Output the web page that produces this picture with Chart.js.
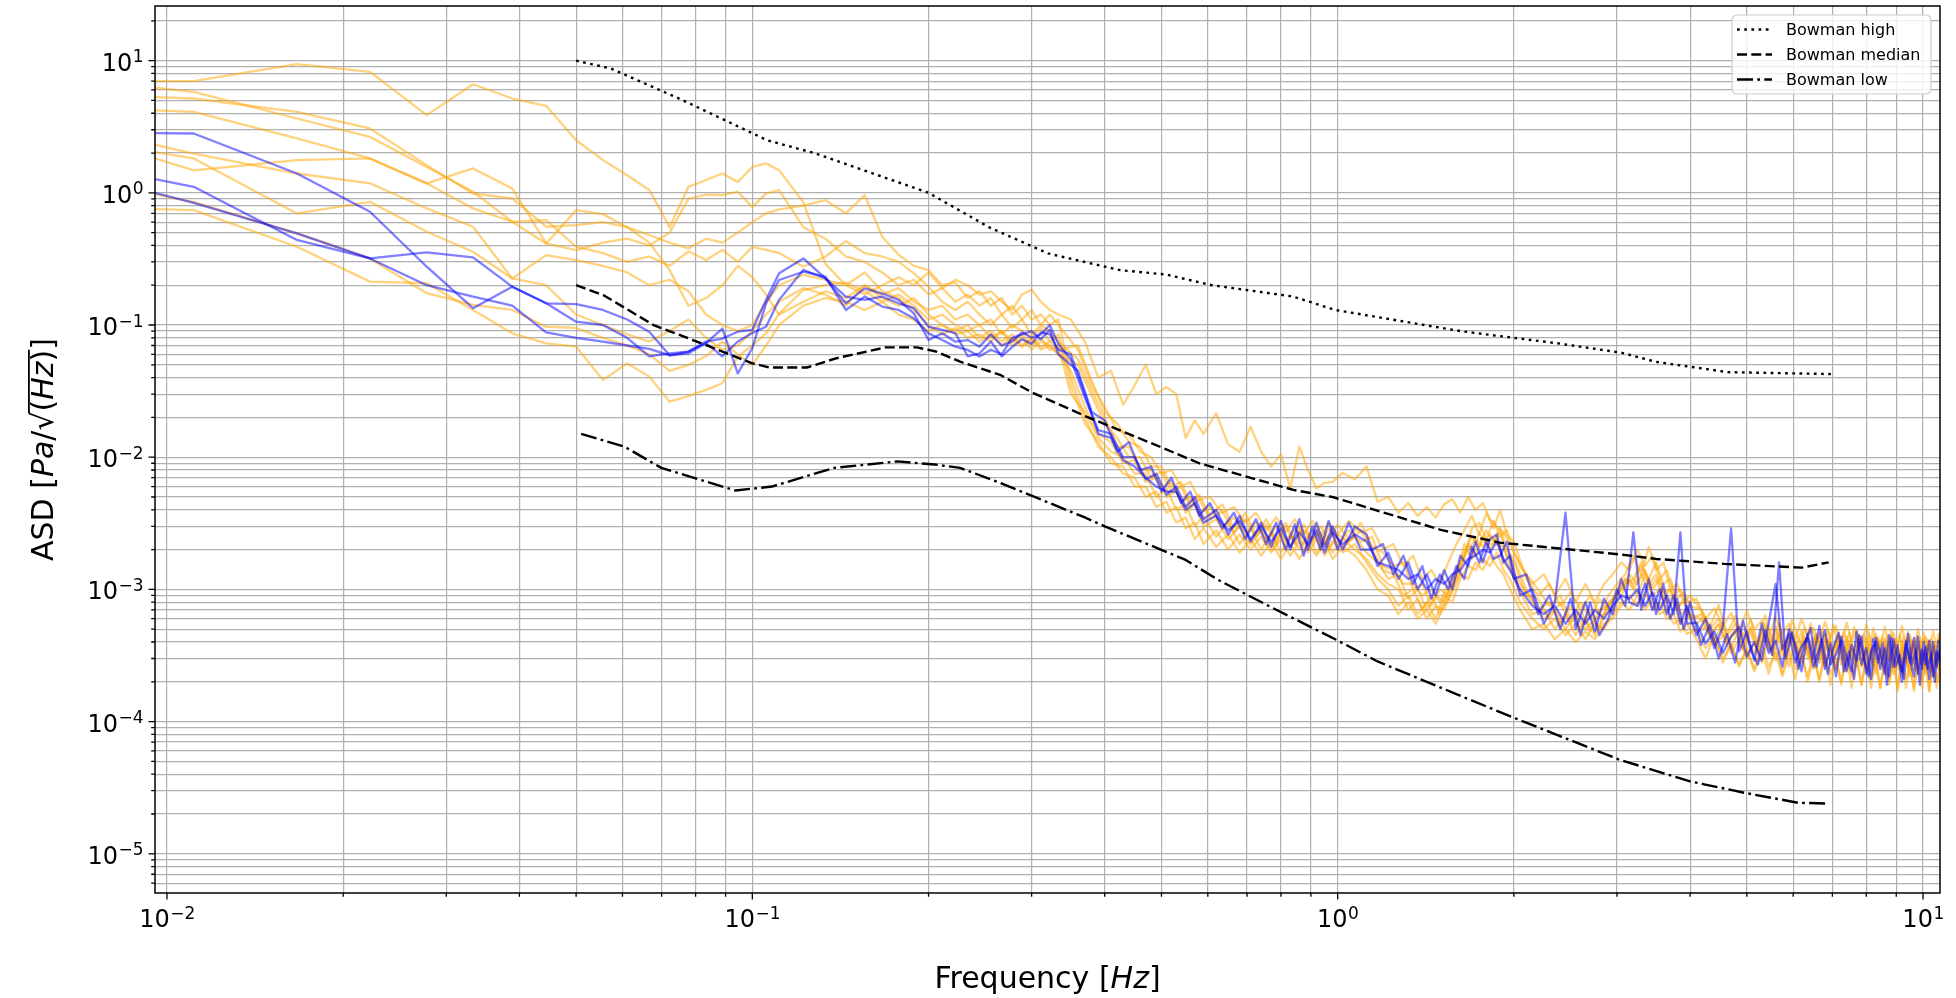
<!DOCTYPE html>
<html lang="en">
<head>
<meta charset="utf-8">
<title>ASD</title>
<script src="https://cdn.jsdelivr.net/npm/chart.js@4.4.1/dist/chart.umd.min.js"></script>
<style>
  html, body { margin: 0; padding: 0; background: #ffffff; }
  #wrap { position: relative; width: 1956px; height: 998px; }
</style>
</head>
<body>
<div id="wrap"><canvas id="asd" width="1956" height="998"></canvas></div>
<script>
// Frequencies in Hz: FFT bins (k/180 Hz) at the low end, then two interleaved read-off grids
const freqLow = [
  0.00556, 0.01111, 0.01667, 0.02222, 0.02778, 0.03333, 0.03889, 0.04444, 0.05, 0.05556,
  0.06111, 0.06667, 0.07222, 0.07778, 0.08333, 0.08889, 0.09444, 0.1, 0.10556, 0.11111,
  0.12222, 0.13333, 0.14444, 0.15556, 0.16667, 0.17778, 0.18889, 0.2, 0.21111, 0.22222,
  0.23333, 0.24444, 0.25556, 0.26667, 0.27778, 0.28889, 0.3, 0.31111, 0.32222, 0.33333
]
const freqHighA = [
  0.35, 0.37, 0.39, 0.41, 0.43, 0.45, 0.47, 0.49, 0.51, 0.53, 0.55, 0.57, 0.59, 0.62, 0.65, 0.68, 0.71, 0.74, 0.77, 0.8, 0.83, 0.86, 0.89, 0.92, 0.95, 0.98,
  1.02, 1.07, 1.12, 1.17, 1.22, 1.27, 1.32, 1.37, 1.42, 1.47, 1.52, 1.57, 1.62, 1.67, 1.72, 1.77, 1.82, 1.87, 1.92, 1.97,
  2.05, 2.15, 2.25, 2.35, 2.45, 2.55, 2.65, 2.75, 2.85, 2.95, 3.05, 3.15, 3.25, 3.35, 3.45, 3.55, 3.65, 3.75, 3.85, 3.95,
  4.1, 4.25, 4.4, 4.55, 4.7, 4.85, 5.0, 5.15, 5.3, 5.45, 5.6, 5.75, 5.9, 6.05, 6.2, 6.35, 6.5, 6.65, 6.8, 6.95, 7.1, 7.25, 7.4,
  7.55, 7.7, 7.85, 8.0, 8.15, 8.3, 8.45, 8.6, 8.75, 8.9, 9.05, 9.2, 9.35, 9.5, 9.65, 9.8, 9.95, 10.1, 10.25, 10.4, 10.55, 10.7
]
const freqHighB = [
  0.36, 0.38, 0.4, 0.42, 0.44, 0.46, 0.48, 0.5, 0.52, 0.54, 0.56, 0.58, 0.605, 0.635, 0.665, 0.695, 0.725, 0.755, 0.785, 0.815, 0.845, 0.875, 0.905, 0.935, 0.965, 1.0,
  1.045, 1.095, 1.145, 1.195, 1.245, 1.295, 1.345, 1.395, 1.445, 1.495, 1.545, 1.595, 1.645, 1.695, 1.745, 1.795, 1.845, 1.895, 1.945, 2.0,
  2.1, 2.2, 2.3, 2.4, 2.5, 2.6, 2.7, 2.8, 2.9, 3.0, 3.1, 3.2, 3.3, 3.4, 3.5, 3.6, 3.7, 3.8, 3.9, 4.0,
  4.175, 4.325, 4.475, 4.625, 4.775, 4.925, 5.075, 5.225, 5.375, 5.525, 5.675, 5.825, 5.975, 6.125, 6.275, 6.425, 6.575, 6.725, 6.875, 7.025, 7.175, 7.325, 7.475,
  7.625, 7.775, 7.925, 8.075, 8.225, 8.375, 8.525, 8.675, 8.825, 8.975, 9.125, 9.275, 9.425, 9.575, 9.725, 9.875, 10.025, 10.175, 10.325, 10.475, 10.625, 10.775
]

// ASD values [Pa/sqrt(Hz)], one per frequency in freqLow followed by the series' high grid
const blue1 = [
  2.9, 2.81, 1.40, 0.719, 0.276, 0.134, 0.195, 0.146, 0.144, 0.13, 0.11, 0.089, 0.059, 0.063, 0.075, 0.079, 0.089, 0.092, 0.155, 0.246,
  0.319, 0.225, 0.146, 0.189, 0.173, 0.155, 0.122, 0.077, 0.0865, 0.0748, 0.077, 0.0686, 0.085, 0.07, 0.075, 0.088, 0.08, 0.085, 0.1, 0.072,
  5.5e-2, 2.8e-2, 1.6e-2, 1.5e-2, 1.0e-2, 1.0e-2, 6.8e-3, 7.5e-3, 5.2e-3, 6.0e-3, 4.2e-3, 5.0e-3, 3.4e-3, 4.0e-3, 2.6e-3, 3.6e-3, 2.3e-3, 3.2e-3, 2.1e-3, 3.3e-3, 2.0e-3, 3.4e-3, 2.0e-3, 3.2e-3, 2.1e-3, 3.0e-3,
  2.0e-3, 3.0e-3, 2.6e-3, 1.5e-3, 1.9e-3, 1.2e-3, 1.6e-3, 1.0e-3, 1.3e-3, 9.0e-4, 1.4e-3, 1.0e-3, 1.8e-3, 1.5e-3, 2.3e-3, 1.6e-3, 2.4e-3, 2.6e-3, 1.6e-3, 1.8e-3,
  9.0e-4, 1.0e-3, 5.5e-4, 8.0e-4, 3.8e-3, 5.0e-4, 8.0e-4, 4.8e-4, 8.5e-4, 6.5e-4, 1.2e-3, 8.0e-4, 7.5e-4, 1.1e-3, 7.0e-4, 1.0e-3, 6.5e-4, 9.0e-4, 5.5e-4, 7.5e-4,
  4.5e-4, 6.0e-4, 3.6e-4, 5.2e-4, 2.9e-3, 3.4e-4, 4.8e-4, 2.9e-4, 5.5e-4, 3.3e-4, 4.1e-4, 2.6e-4, 5.0e-4, 3.8e-4, 2.4e-4, 4.6e-4, 3.0e-4, 5.3e-4, 2.5e-4, 3.9e-4, 2.2e-4, 4.4e-4, 3.1e-4,
  2.4e-4, 4.8e-4, 2.7e-4, 3.6e-4, 2.1e-4, 4.3e-4, 3.3e-4, 2.3e-4, 4.5e-4, 2.6e-4, 3.8e-4, 2.0e-4, 4.1e-4, 2.9e-4, 2.2e-4, 4.4e-4, 2.5e-4, 3.7e-4, 2.1e-4, 4.0e-4, 2.6e-4, 3.5e-4
]
const blue2 = [
  2.05, 1.11, 0.44, 0.319, 0.354, 0.325, 0.195, 0.146, 0.106, 0.1, 0.08, 0.058, 0.061, 0.063, 0.073, 0.094, 0.043, 0.067, 0.146, 0.219,
  0.253, 0.232, 0.13, 0.164, 0.138, 0.13, 0.112, 0.0865, 0.077, 0.0686, 0.0648, 0.0577, 0.065, 0.06, 0.08, 0.085, 0.09, 0.078, 0.092, 0.06,
  4.5e-2, 2.2e-2, 1.9e-2, 1.1e-2, 1.3e-2, 8.0e-3, 8.5e-3, 5.5e-3, 7.0e-3, 4.5e-3, 5.5e-3, 3.6e-3, 4.5e-3, 2.9e-3, 3.8e-3, 2.4e-3, 3.4e-3, 2.2e-3, 3.2e-3, 2.0e-3, 3.1e-3, 1.8e-3, 3.0e-3, 2.0e-3, 3.3e-3, 2.0e-3,
  3.2e-3, 2.0e-3, 2.0e-3, 2.2e-3, 1.3e-3, 1.8e-3, 1.1e-3, 1.5e-3, 8.5e-4, 1.3e-3, 1.0e-3, 1.5e-3, 1.2e-3, 2.1e-3, 1.6e-3, 2.3e-3, 1.7e-3, 1.8e-3, 2.3e-3, 1.2e-3,
  1.3e-3, 6.5e-4, 9.0e-4, 5.0e-4, 8.5e-4, 4.5e-4, 8.0e-4, 4.5e-4, 6.0e-4, 1.0e-3, 7.5e-4, 2.7e-3, 7.0e-4, 1.2e-3, 6.5e-4, 1.1e-3, 6.0e-4, 8.5e-4, 5.0e-4, 8.0e-4,
  3.8e-4, 5.4e-4, 3.0e-4, 4.6e-4, 2.8e-4, 5.8e-4, 3.5e-4, 2.7e-4, 4.9e-4, 3.2e-4, 1.6e-3, 3.0e-4, 4.7e-4, 2.5e-4, 3.9e-4, 5.1e-4, 2.6e-4, 4.2e-4, 2.3e-4, 3.6e-4, 4.7e-4, 2.4e-4, 3.4e-4,
  2.1e-4, 4.5e-4, 3.0e-4, 2.2e-4, 4.2e-4, 2.8e-4, 3.9e-4, 1.9e-4, 4.3e-4, 2.6e-4, 3.2e-4, 2.1e-4, 4.6e-4, 2.7e-4, 3.5e-4, 1.9e-4, 4.0e-4, 2.5e-4, 3.3e-4, 2.0e-4, 4.1e-4, 2.4e-4
]
const blue3 = [
  1.85, 0.84, 0.493, 0.319, 0.2, 0.164, 0.14, 0.088, 0.08, 0.075, 0.07, 0.066, 0.059, 0.061, 0.073, 0.058, 0.075, 0.087, 0.097, 0.155,
  0.261, 0.225, 0.164, 0.155, 0.164, 0.146, 0.134, 0.097, 0.092, 0.087, 0.058, 0.061, 0.075, 0.058, 0.068, 0.078, 0.072, 0.088, 0.085, 0.065,
  6.0e-2, 3.0e-2, 1.5e-2, 1.4e-2, 9.5e-3, 8.5e-3, 7.0e-3, 6.0e-3, 5.5e-3, 5.5e-3, 4.0e-3, 4.5e-3, 3.2e-3, 3.6e-3, 2.8e-3, 3.3e-3, 2.4e-3, 3.0e-3, 2.3e-3, 2.9e-3, 2.1e-3, 2.7e-3, 2.2e-3, 2.8e-3, 1.9e-3, 2.7e-3,
  2.2e-3, 2.6e-3, 2.3e-3, 1.6e-3, 1.5e-3, 1.4e-3, 1.2e-3, 1.3e-3, 1.0e-3, 1.2e-3, 1.1e-3, 1.3e-3, 1.4e-3, 1.7e-3, 1.8e-3, 2.0e-3, 1.9e-3, 2.3e-3, 1.7e-3, 1.4e-3,
  1.0e-3, 7.5e-4, 6.5e-4, 7.5e-4, 5.5e-4, 7.0e-4, 5.5e-4, 7.0e-4, 6.0e-4, 7.5e-4, 9.0e-4, 8.5e-4, 1.0e-3, 7.5e-4, 9.5e-4, 7.0e-4, 9.0e-4, 6.5e-4, 2.7e-3, 5.5e-4,
  5.6e-4, 3.9e-4, 4.8e-4, 3.3e-4, 4.4e-4, 5.2e-4, 3.1e-4, 4.0e-4, 2.9e-4, 5.6e-4, 1.1e-3, 3.5e-4, 4.6e-4, 2.8e-4, 3.7e-4, 4.3e-4, 2.6e-4, 3.6e-4, 4.9e-4, 2.7e-4, 3.2e-4, 4.1e-4, 2.4e-4,
  3.8e-4, 2.9e-4, 4.4e-4, 2.3e-4, 3.4e-4, 4.0e-4, 2.5e-4, 3.6e-4, 2.2e-4, 4.2e-4, 3.0e-4, 2.4e-4, 3.9e-4, 2.8e-4, 4.3e-4, 2.3e-4, 3.5e-4, 2.7e-4, 4.1e-4, 2.2e-4, 3.4e-4, 2.9e-4
]
const orange1 = [
  7.0, 6.99, 9.4, 8.22, 3.87, 6.63, 5.17, 4.55, 2.5, 1.77, 1.36, 1.05, 0.55, 1.11, 1.25, 1.40, 1.21, 1.57, 1.67, 1.48,
  0.85, 0.29, 0.2, 0.17, 0.2, 0.23, 0.2, 0.25, 0.19, 0.22, 0.2, 0.17, 0.18, 0.15, 0.13, 0.17, 0.185, 0.15, 0.13, 0.12,
  0.11, 0.075, 0.04, 0.045, 0.025, 0.035, 0.05, 0.03, 0.034, 0.03, 0.014, 0.019, 0.015, 0.0215, 0.0125, 0.011, 0.017, 0.011, 0.0085, 0.0105, 0.0058, 0.012, 0.008, 0.0058, 0.0064, 0.0065,
  0.0076, 0.0068, 0.0085, 0.0046, 0.005, 0.0038, 0.0045, 0.0036, 0.0042, 0.0035, 0.0044, 0.0048, 0.0038, 0.005, 0.004, 0.0045, 0.0034, 0.003, 0.0027, 0.0022,
  1.5e-3, 1.1e-3, 1.3e-3, 9.0e-4, 1.2e-3, 8.0e-4, 1.1e-3, 8.0e-4, 1.1e-3, 1.3e-3, 1.6e-3, 1.4e-3, 2.0e-3, 1.5e-3, 1.8e-3, 1.2e-3, 1.4e-3, 9.0e-4, 1.0e-3, 8.0e-4,
  8.5e-4, 6.0e-4, 7.2e-4, 5.3e-4, 6.6e-4, 4.8e-4, 6.9e-4, 5.0e-4, 5.8e-4, 4.4e-4, 6.2e-4, 4.6e-4, 5.5e-4, 4.2e-4, 6.0e-4, 4.5e-4, 5.1e-4, 4.0e-4, 5.7e-4, 4.3e-4, 5.3e-4, 3.8e-4, 5.6e-4,
  4.1e-4, 4.9e-4, 3.7e-4, 5.4e-4, 4.0e-4, 4.6e-4, 3.6e-4, 5.2e-4, 3.9e-4, 4.7e-4, 3.5e-4, 5.3e-4, 3.8e-4, 4.5e-4, 3.4e-4, 5.0e-4, 3.7e-4, 4.4e-4, 3.3e-4, 4.9e-4, 3.6e-4, 4.6e-4
]
const orange2 = [
  8.0, 5.81, 3.65, 2.65, 1.57, 1.02, 0.604, 0.414, 0.369, 0.42, 0.45, 0.4, 0.5, 0.9, 0.97, 0.96, 1.02, 0.78, 0.99, 1.05,
  0.55, 0.45, 0.33, 0.3, 0.25, 0.2, 0.22, 0.17, 0.19, 0.15, 0.17, 0.14, 0.16, 0.12, 0.14, 0.11, 0.13, 0.1, 0.12, 0.1,
  6.5e-2, 3.5e-2, 2.4e-2, 1.6e-2, 1.5e-2, 1.1e-2, 1.0e-2, 7.5e-3, 8.0e-3, 6.0e-3, 6.5e-3, 4.8e-3, 5.0e-3, 3.8e-3, 4.2e-3, 3.2e-3, 3.8e-3, 2.8e-3, 3.5e-3, 2.7e-3, 3.4e-3, 2.6e-3, 3.3e-3, 2.5e-3, 3.2e-3, 2.6e-3,
  3.3e-3, 2.7e-3, 2.9e-3, 2.0e-3, 2.2e-3, 1.5e-3, 1.8e-3, 1.2e-3, 1.4e-3, 1.1e-3, 1.6e-3, 2.2e-3, 2.8e-3, 3.6e-3, 2.6e-3, 3.8e-3, 2.9e-3, 4.0e-3, 2.6e-3, 2.3e-3,
  1.2e-3, 9.0e-4, 1.1e-3, 7.5e-4, 9.5e-4, 7.0e-4, 9.0e-4, 6.5e-4, 9.0e-4, 1.1e-3, 1.3e-3, 1.8e-3, 1.3e-3, 2.1e-3, 1.4e-3, 1.6e-3, 1.0e-3, 1.1e-3, 8.0e-4, 9.0e-4,
  7.0e-4, 5.2e-4, 7.6e-4, 4.6e-4, 6.3e-4, 4.4e-4, 5.9e-4, 3.9e-4, 6.4e-4, 4.1e-4, 5.6e-4, 3.7e-4, 5.9e-4, 4.2e-4, 3.5e-4, 5.5e-4, 3.9e-4, 5.0e-4, 3.4e-4, 5.4e-4, 3.7e-4, 4.8e-4, 3.3e-4,
  5.2e-4, 3.6e-4, 4.6e-4, 3.1e-4, 5.1e-4, 3.5e-4, 4.4e-4, 3.0e-4, 4.9e-4, 3.4e-4, 4.6e-4, 2.9e-4, 4.8e-4, 3.3e-4, 4.3e-4, 2.9e-4, 4.7e-4, 3.2e-4, 4.2e-4, 2.8e-4, 4.6e-4, 3.4e-4
]
const orange3 = [
  5.8, 5.17, 4.10, 3.07, 1.62, 0.99, 0.906, 0.554, 0.57, 0.6, 0.55, 0.48, 0.42, 0.38, 0.45, 0.42, 0.5, 0.6, 0.7, 0.75,
  0.8, 0.88, 0.70, 0.96, 0.465, 0.34, 0.28, 0.26, 0.2, 0.21, 0.16, 0.18, 0.14, 0.16, 0.12, 0.14, 0.11, 0.12, 0.1, 0.11,
  4.0e-2, 2.0e-2, 1.2e-2, 1.0e-2, 7.5e-3, 7.0e-3, 5.0e-3, 5.5e-3, 3.8e-3, 4.2e-3, 2.9e-3, 3.2e-3, 2.2e-3, 2.8e-3, 2.0e-3, 2.6e-3, 2.0e-3, 2.5e-3, 1.9e-3, 2.4e-3, 1.8e-3, 2.3e-3, 1.9e-3, 2.4e-3, 1.8e-3, 2.3e-3,
  1.9e-3, 2.2e-3, 1.6e-3, 1.2e-3, 1.0e-3, 7.5e-4, 9.0e-4, 6.5e-4, 8.0e-4, 6.0e-4, 9.0e-4, 8.0e-4, 1.2e-3, 1.5e-3, 1.4e-3, 1.7e-3, 1.5e-3, 1.9e-3, 1.4e-3, 1.2e-3,
  8.0e-4, 6.0e-4, 5.0e-4, 6.0e-4, 4.5e-4, 5.5e-4, 4.2e-4, 5.5e-4, 5.0e-4, 6.5e-4, 8.0e-4, 7.0e-4, 9.0e-4, 7.0e-4, 8.5e-4, 6.5e-4, 7.0e-4, 5.5e-4, 6.0e-4, 4.6e-4,
  5.0e-4, 3.6e-4, 4.3e-4, 3.0e-4, 3.8e-4, 2.7e-4, 3.5e-4, 2.5e-4, 3.9e-4, 2.6e-4, 3.3e-4, 2.3e-4, 3.6e-4, 2.5e-4, 3.1e-4, 2.2e-4, 3.4e-4, 2.0e-4, 3.2e-4, 2.3e-4, 2.9e-4, 1.9e-4, 3.3e-4,
  2.2e-4, 3.0e-4, 1.9e-4, 3.2e-4, 2.1e-4, 2.8e-4, 1.8e-4, 3.1e-4, 2.0e-4, 2.9e-4, 1.8e-4, 3.0e-4, 2.1e-4, 2.7e-4, 1.8e-4, 3.0e-4, 2.0e-4, 2.8e-4, 1.7e-4, 2.9e-4, 2.0e-4, 2.7e-4
]
const orange4 = [
  4.6, 4.10, 2.58, 1.82, 1.18, 0.762, 0.604, 0.622, 0.391, 0.35, 0.3, 0.33, 0.28, 0.36, 0.31, 0.37, 0.3, 0.39, 0.37, 0.35,
  0.276, 0.33, 0.43, 0.35, 0.33, 0.3, 0.246, 0.195, 0.15, 0.13, 0.15, 0.12, 0.1, 0.12, 0.095, 0.11, 0.085, 0.1, 0.09, 0.075,
  5.5e-2, 3.2e-2, 2.0e-2, 1.2e-2, 1.2e-2, 8.0e-3, 8.0e-3, 6.0e-3, 6.5e-3, 4.6e-3, 5.0e-3, 3.8e-3, 4.2e-3, 3.0e-3, 3.5e-3, 2.7e-3, 3.2e-3, 2.4e-3, 3.0e-3, 2.3e-3, 2.9e-3, 2.2e-3, 2.8e-3, 2.2e-3, 2.9e-3, 2.2e-3,
  2.8e-3, 2.3e-3, 2.5e-3, 1.5e-3, 1.4e-3, 1.1e-3, 1.1e-3, 9.0e-4, 1.0e-3, 8.0e-4, 1.1e-3, 1.4e-3, 1.9e-3, 2.5e-3, 2.1e-3, 2.8e-3, 2.3e-3, 2.9e-3, 2.0e-3, 1.7e-3,
  1.0e-3, 7.0e-4, 8.0e-4, 5.5e-4, 7.5e-4, 5.0e-4, 7.0e-4, 5.0e-4, 8.0e-4, 9.0e-4, 1.1e-3, 1.2e-3, 1.6e-3, 1.1e-3, 1.3e-3, 9.5e-4, 1.0e-3, 7.5e-4, 8.0e-4, 6.5e-4,
  6.0e-4, 4.4e-4, 5.5e-4, 3.8e-4, 5.0e-4, 3.5e-4, 4.7e-4, 3.3e-4, 5.1e-4, 3.4e-4, 4.5e-4, 3.1e-4, 4.8e-4, 3.2e-4, 4.3e-4, 2.9e-4, 4.6e-4, 3.1e-4, 4.2e-4, 2.8e-4, 4.5e-4, 3.0e-4, 4.1e-4,
  2.7e-4, 4.4e-4, 2.9e-4, 4.0e-4, 2.6e-4, 4.3e-4, 2.9e-4, 3.9e-4, 2.6e-4, 4.2e-4, 2.8e-4, 3.8e-4, 2.5e-4, 4.1e-4, 2.8e-4, 3.7e-4, 2.5e-4, 4.0e-4, 2.7e-4, 3.7e-4, 2.5e-4, 3.9e-4
]
const orange5 = [
  4.0, 1.98, 1.40, 1.18, 0.762, 0.554, 0.225, 0.338, 0.31, 0.28, 0.25, 0.2, 0.22, 0.18, 0.12, 0.1, 0.09, 0.1, 0.15, 0.2,
  0.24, 0.22, 0.2, 0.25, 0.18, 0.16, 0.13, 0.1, 0.085, 0.095, 0.08, 0.085, 0.075, 0.09, 0.07, 0.08, 0.065, 0.075, 0.07, 0.06,
  4.5e-2, 2.4e-2, 1.5e-2, 1.3e-2, 9.0e-3, 9.5e-3, 6.5e-3, 7.0e-3, 5.0e-3, 5.5e-3, 3.8e-3, 4.4e-3, 3.0e-3, 3.4e-3, 2.4e-3, 3.0e-3, 2.2e-3, 2.8e-3, 2.0e-3, 2.7e-3, 2.1e-3, 2.9e-3, 2.1e-3, 2.6e-3, 2.2e-3, 2.8e-3,
  2.1e-3, 2.5e-3, 1.9e-3, 1.6e-3, 1.2e-3, 1.3e-3, 8.5e-4, 1.0e-3, 7.0e-4, 9.0e-4, 8.0e-4, 1.1e-3, 1.6e-3, 2.0e-3, 2.4e-3, 2.1e-3, 2.6e-3, 2.2e-3, 2.1e-3, 1.5e-3,
  1.1e-3, 8.0e-4, 6.0e-4, 7.0e-4, 5.0e-4, 6.5e-4, 5.0e-4, 6.0e-4, 6.5e-4, 8.5e-4, 1.0e-3, 1.3e-3, 1.1e-3, 1.4e-3, 1.0e-3, 1.2e-3, 8.0e-4, 9.0e-4, 6.5e-4, 7.0e-4,
  5.5e-4, 6.2e-4, 4.0e-4, 5.6e-4, 3.6e-4, 5.0e-4, 4.2e-4, 3.3e-4, 4.8e-4, 3.5e-4, 5.2e-4, 3.1e-4, 4.5e-4, 3.4e-4, 4.9e-4, 3.0e-4, 4.3e-4, 2.8e-4, 4.6e-4, 3.2e-4, 4.1e-4, 2.7e-4, 4.4e-4,
  3.1e-4, 4.0e-4, 2.6e-4, 4.3e-4, 3.0e-4, 3.8e-4, 2.6e-4, 4.2e-4, 2.9e-4, 3.7e-4, 2.5e-4, 4.1e-4, 2.8e-4, 3.6e-4, 2.5e-4, 4.0e-4, 2.7e-4, 3.6e-4, 2.4e-4, 3.9e-4, 2.7e-4, 3.5e-4
]
const orange6 = [
  3.0, 1.82, 0.698, 0.855, 0.508, 0.358, 0.225, 0.2, 0.12, 0.1, 0.085, 0.075, 0.09, 0.11, 0.08, 0.065, 0.07, 0.09, 0.12, 0.15,
  0.19, 0.17, 0.14, 0.2, 0.16, 0.14, 0.16, 0.12, 0.1, 0.09, 0.1, 0.08, 0.09, 0.075, 0.085, 0.07, 0.08, 0.068, 0.075, 0.065,
  7.0e-2, 3.8e-2, 2.2e-2, 1.8e-2, 1.3e-2, 1.2e-2, 8.5e-3, 8.5e-3, 6.0e-3, 6.5e-3, 4.5e-3, 5.2e-3, 3.6e-3, 4.4e-3, 2.9e-3, 3.8e-3, 2.6e-3, 3.4e-3, 2.4e-3, 3.2e-3, 2.3e-3, 3.1e-3, 2.3e-3, 3.0e-3, 2.4e-3, 3.1e-3,
  2.4e-3, 3.2e-3, 2.1e-3, 1.9e-3, 1.5e-3, 1.6e-3, 1.0e-3, 1.1e-3, 7.5e-4, 1.0e-3, 9.0e-4, 1.3e-3, 1.7e-3, 2.9e-3, 3.2e-3, 2.4e-3, 3.3e-3, 2.5e-3, 2.8e-3, 1.9e-3,
  1.3e-3, 1.0e-3, 7.5e-4, 9.0e-4, 6.0e-4, 8.0e-4, 6.0e-4, 8.5e-4, 7.0e-4, 1.0e-3, 1.2e-3, 1.1e-3, 1.5e-3, 1.2e-3, 1.6e-3, 1.1e-3, 1.2e-3, 8.5e-4, 9.5e-4, 7.5e-4,
  7.0e-4, 5.0e-4, 6.0e-4, 4.4e-4, 5.5e-4, 4.0e-4, 5.2e-4, 3.7e-4, 5.5e-4, 3.9e-4, 5.0e-4, 3.6e-4, 4.8e-4, 3.4e-4, 5.1e-4, 3.5e-4, 4.6e-4, 3.3e-4, 4.9e-4, 3.4e-4, 4.4e-4, 3.2e-4, 4.7e-4,
  3.3e-4, 4.5e-4, 3.1e-4, 4.6e-4, 3.2e-4, 4.3e-4, 3.0e-4, 4.5e-4, 3.1e-4, 4.2e-4, 3.0e-4, 4.4e-4, 3.0e-4, 4.1e-4, 2.9e-4, 4.3e-4, 3.0e-4, 4.2e-4, 2.9e-4, 4.0e-4, 2.9e-4, 4.0e-4
]
const orange7 = [
  3.8, 1.48, 1.77, 1.82, 1.18, 1.53, 1.08, 0.414, 0.74, 0.69, 0.55, 0.42, 0.26, 0.14, 0.16, 0.2, 0.28, 0.23, 0.17, 0.12,
  0.15, 0.18, 0.16, 0.2, 0.17, 0.19, 0.15, 0.13, 0.14, 0.11, 0.12, 0.1, 0.11, 0.085, 0.1, 0.09, 0.08, 0.095, 0.075, 0.085,
  3.5e-2, 1.8e-2, 1.3e-2, 9.0e-3, 8.5e-3, 6.0e-3, 6.0e-3, 4.2e-3, 4.6e-3, 3.2e-3, 3.5e-3, 2.4e-3, 2.9e-3, 2.1e-3, 2.6e-3, 1.9e-3, 2.4e-3, 1.8e-3, 2.3e-3, 1.7e-3, 2.2e-3, 1.7e-3, 2.2e-3, 1.8e-3, 2.3e-3, 1.7e-3,
  2.1e-3, 1.8e-3, 1.4e-3, 1.0e-3, 9.0e-4, 6.5e-4, 8.0e-4, 6.0e-4, 7.0e-4, 5.5e-4, 7.5e-4, 9.5e-4, 1.3e-3, 1.2e-3, 1.6e-3, 1.4e-3, 1.8e-3, 1.5e-3, 1.3e-3, 1.0e-3,
  7.0e-4, 5.0e-4, 5.5e-4, 4.2e-4, 5.0e-4, 4.0e-4, 4.8e-4, 4.2e-4, 5.5e-4, 6.0e-4, 7.5e-4, 9.0e-4, 7.5e-4, 9.5e-4, 7.0e-4, 8.0e-4, 6.0e-4, 6.5e-4, 4.8e-4, 5.5e-4,
  4.2e-4, 3.0e-4, 4.5e-4, 2.8e-4, 3.9e-4, 2.6e-4, 3.6e-4, 2.4e-4, 3.4e-4, 2.3e-4, 3.6e-4, 2.2e-4, 3.2e-4, 2.1e-4, 3.4e-4, 2.0e-4, 3.1e-4, 2.1e-4, 3.3e-4, 1.9e-4, 3.0e-4, 2.0e-4, 3.2e-4,
  1.8e-4, 3.1e-4, 1.9e-4, 2.9e-4, 1.8e-4, 3.1e-4, 1.8e-4, 2.8e-4, 1.9e-4, 3.0e-4, 1.7e-4, 2.9e-4, 1.8e-4, 2.7e-4, 1.7e-4, 2.9e-4, 1.8e-4, 2.8e-4, 1.7e-4, 2.9e-4, 1.8e-4, 2.7e-4
]
const orange8 = [
  1.6, 0.85, 0.493, 0.319, 0.174, 0.142, 0.13, 0.097, 0.095, 0.08, 0.07, 0.06, 0.045, 0.05, 0.058, 0.075, 0.06, 0.05, 0.07, 0.1,
  0.14, 0.16, 0.15, 0.13, 0.15, 0.12, 0.11, 0.09, 0.1, 0.085, 0.09, 0.075, 0.085, 0.07, 0.08, 0.068, 0.078, 0.065, 0.07, 0.06,
  5.0e-2, 2.9e-2, 1.8e-2, 1.4e-2, 1.0e-2, 1.0e-2, 7.0e-3, 7.8e-3, 5.5e-3, 6.0e-3, 4.2e-3, 4.8e-3, 3.4e-3, 3.9e-3, 2.7e-3, 3.4e-3, 2.5e-3, 3.1e-3, 2.2e-3, 3.0e-3, 2.2e-3, 2.8e-3, 2.4e-3, 2.7e-3, 2.0e-3, 2.6e-3,
  2.3e-3, 2.8e-3, 2.0e-3, 1.4e-3, 1.3e-3, 9.0e-4, 1.0e-3, 7.0e-4, 9.0e-4, 6.5e-4, 1.0e-3, 1.2e-3, 2.2e-3, 1.7e-3, 2.7e-3, 2.2e-3, 2.2e-3, 2.7e-3, 1.8e-3, 1.6e-3,
  9.0e-4, 8.5e-4, 6.0e-4, 8.0e-4, 5.5e-4, 7.0e-4, 4.8e-4, 7.0e-4, 7.5e-4, 9.0e-4, 1.2e-3, 1.0e-3, 1.3e-3, 1.0e-3, 1.2e-3, 8.5e-4, 1.0e-3, 7.0e-4, 8.5e-4, 6.0e-4,
  6.5e-4, 4.6e-4, 5.4e-4, 4.0e-4, 4.8e-4, 3.5e-4, 5.1e-4, 3.4e-4, 4.5e-4, 3.2e-4, 4.7e-4, 3.0e-4, 4.3e-4, 2.9e-4, 4.4e-4, 2.8e-4, 4.2e-4, 2.7e-4, 4.1e-4, 3.0e-4, 4.0e-4, 2.6e-4, 3.9e-4,
  2.8e-4, 4.0e-4, 2.6e-4, 3.8e-4, 2.5e-4, 3.9e-4, 2.7e-4, 3.8e-4, 2.5e-4, 3.8e-4, 2.4e-4, 3.7e-4, 2.6e-4, 3.8e-4, 2.4e-4, 3.7e-4, 2.5e-4, 3.6e-4, 2.4e-4, 3.7e-4, 2.5e-4, 3.6e-4
]
const orange9 = [
  0.8, 0.74, 0.391, 0.213, 0.207, 0.13, 0.0865, 0.0727, 0.0686, 0.0384, 0.0513, 0.0407, 0.0263, 0.029, 0.0323, 0.0363, 0.0576, 0.07, 0.0865, 0.122,
  0.184, 0.2, 0.21, 0.18, 0.15, 0.17, 0.14, 0.11, 0.12, 0.1, 0.09, 0.1, 0.08, 0.09, 0.075, 0.085, 0.07, 0.08, 0.065, 0.07,
  3.0e-2, 2.2e-2, 1.4e-2, 1.1e-2, 1.0e-2, 7.5e-3, 7.5e-3, 5.0e-3, 5.8e-3, 4.0e-3, 4.4e-3, 3.0e-3, 3.6e-3, 2.5e-3, 3.2e-3, 2.2e-3, 2.9e-3, 2.0e-3, 2.7e-3, 1.9e-3, 2.6e-3, 2.0e-3, 2.6e-3, 1.9e-3, 2.5e-3, 1.9e-3,
  2.4e-3, 2.0e-3, 1.7e-3, 1.3e-3, 1.1e-3, 1.0e-3, 7.0e-4, 8.5e-4, 6.0e-4, 7.5e-4, 7.0e-4, 1.0e-3, 1.4e-3, 2.2e-3, 1.8e-3, 2.5e-3, 2.0e-3, 2.4e-3, 1.6e-3, 1.4e-3,
  9.5e-4, 6.5e-4, 7.0e-4, 5.0e-4, 6.5e-4, 4.5e-4, 6.0e-4, 4.5e-4, 6.5e-4, 7.0e-4, 9.0e-4, 1.2e-3, 9.0e-4, 1.3e-3, 9.0e-4, 1.0e-3, 7.0e-4, 8.0e-4, 5.5e-4, 6.5e-4,
  4.8e-4, 5.2e-4, 3.8e-4, 4.5e-4, 3.3e-4, 4.2e-4, 3.0e-4, 4.0e-4, 2.8e-4, 4.2e-4, 2.9e-4, 3.8e-4, 2.6e-4, 4.0e-4, 2.8e-4, 3.7e-4, 2.5e-4, 3.8e-4, 2.6e-4, 3.5e-4, 2.5e-4, 3.7e-4, 2.4e-4,
  3.4e-4, 2.6e-4, 3.6e-4, 2.4e-4, 3.4e-4, 2.3e-4, 3.5e-4, 2.4e-4, 3.4e-4, 2.3e-4, 3.5e-4, 2.4e-4, 3.3e-4, 2.2e-4, 3.4e-4, 2.4e-4, 3.3e-4, 2.3e-4, 3.4e-4, 2.2e-4, 3.3e-4, 2.5e-4
]

// Bowman reference curves (frequency Hz, ASD)
const bowmanHighFreq = [0.05, 0.0574, 0.0762, 0.0989, 0.106, 0.128, 0.2, 0.254, 0.32, 0.425, 0.509, 0.61, 0.84, 0.99, 1.62, 1.87, 2.36, 3.06, 3.5, 4.64, 7.05]
const bowmanHigh = [10, 8.7, 5.0, 2.89, 2.5, 1.99, 1.0, 0.548, 0.348, 0.26, 0.241, 0.2, 0.164, 0.13, 0.09, 0.083, 0.073, 0.0616, 0.0526, 0.044, 0.0425]
const bowmanMedianFreq = [0.05, 0.0557, 0.0678, 0.0847, 0.1, 0.107, 0.124, 0.139, 0.169, 0.191, 0.206, 0.2265, 0.265, 0.3, 0.372, 0.497, 0.58, 0.84, 0.98, 1.5, 1.89, 2.37, 3.07, 3.5, 4.58, 6.2, 6.9]
const bowmanMedian = [0.2, 0.168, 0.1, 0.0686, 0.0513, 0.0477, 0.0477, 0.056, 0.0678, 0.0678, 0.063, 0.0528, 0.042, 0.031, 0.0203, 0.012, 0.009, 0.00566, 0.005, 0.00282, 0.00226, 0.00205, 0.00183, 0.0017, 0.00156, 0.00146, 0.0016]
const bowmanLowFreq = [0.051, 0.0605, 0.0699, 0.0936, 0.108, 0.138, 0.177, 0.205, 0.2265, 0.265, 0.37, 0.4, 0.55, 0.625, 0.776, 0.994, 1.17, 1.66, 2.01, 3.03, 4.0, 4.98, 6.12, 6.9]
const bowmanLow = [0.015, 0.012, 0.0083, 0.0056, 0.006, 0.0083, 0.0093, 0.0088, 0.0083, 0.0064, 0.0035, 0.003, 0.00167, 0.00118, 7.2e-4, 4.16e-4, 2.85e-4, 1.5e-4, 1.06e-4, 5.15e-5, 3.53e-5, 2.88e-5, 2.43e-5, 2.4e-5]

// Axes
const xMin = 0.00954
const xMax = 10.69
const yMin = 5.05e-6
const yMax = 25.9
const minorSteps = [1, 2, 3, 4, 5, 6, 7, 8, 9]
const xTickValues = [0.01, 0.1, 1, 10]
const xTickExponents = ["−2", "−1", "0", "1"]
const yTickValues = [1e-5, 1e-4, 1e-3, 1e-2, 1e-1, 1, 10]
const yTickExponents = ["−5", "−4", "−3", "−2", "−1", "0", "1"]

const xTitle = [{ text: "Frequency [" }, { text: "Hz", italic: true }, { text: "]" }]
const yTitle = [
  { text: "ASD [" }, { text: "Pa", italic: true }, { text: "/" }, { text: "√", root: true },
  { text: "(", under: true }, { text: "Hz", italic: true, under: true }, { text: ")", under: true }, { text: "]" }
]

const FONT = "\"DejaVu Sans\", sans-serif"
const ORANGE = "rgba(255,165,0,0.5)"
const BLUE = "rgba(0,0,255,0.5)"

function logTicks(min, max) {
  const ticks = []
  for (let e = Math.floor(Math.log10(min)); e <= Math.ceil(Math.log10(max)); e++) {
    for (const m of minorSteps) {
      const value = m * Math.pow(10, e)
      if (value >= min && value <= max) ticks.push({ value, major: m === 1 })
    }
  }
  return ticks
}

function points(xs, ys) {
  return ys.map((y, i) => ({ x: xs[i], y }))
}

function trace(values, color, order, highGrid) {
  return { data: points(freqLow.concat(highGrid), values), borderColor: color, borderWidth: 2.3, order }
}

function bowman(label, xs, ys, dash) {
  return { label, data: points(xs, ys), borderColor: "#000000", borderWidth: 2.4, borderDash: dash, order: 0, inLegend: true }
}

// "10" with a raised exponent, like matplotlib's log tick labels
function drawPower(ctx, exponent, x, baseline, align) {
  ctx.font = `24px ${FONT}`
  const wBase = ctx.measureText("10").width
  ctx.font = `17px ${FONT}`
  const wExp = ctx.measureText(exponent).width
  const left = align === "right" ? x - wBase - wExp : x - (wBase + wExp) / 2
  ctx.font = `24px ${FONT}`
  ctx.fillText("10", left, baseline)
  ctx.font = `17px ${FONT}`
  ctx.fillText(exponent, left + wBase + 0.5, baseline - 8.5)
}

function drawRich(ctx, parts, size) {
  const font = (p) => `${p.italic ? "italic " : ""}${size}px ${FONT}`
  const widths = parts.map(p => { ctx.font = font(p); return ctx.measureText(p.text).width })
  let x = -widths.reduce((a, b) => a + b, 0) / 2
  let barStart = null
  let barEnd = null
  let barY = 0
  ctx.textAlign = "left"
  ctx.textBaseline = "alphabetic"
  parts.forEach((p, i) => {
    ctx.font = font(p)
    ctx.fillText(p.text, x, 0)
    if (p.root) {
      barY = -ctx.measureText(p.text).actualBoundingBoxAscent
      barStart = x + widths[i] - 1.5
    }
    if (p.under) barEnd = x + widths[i]
    x += widths[i]
  })
  if (barStart !== null) ctx.fillRect(barStart, barY, barEnd - barStart, 1.8)
}

const decor = {
  id: "decor",
  afterDraw(chart) {
    const { ctx, chartArea: area, scales } = chart
    ctx.save()

    // tick marks, outward, black
    ctx.strokeStyle = "#000000"
    ctx.lineWidth = 1.3
    ctx.beginPath()
    for (const t of scales.x.ticks) {
      const px = scales.x.getPixelForValue(t.value)
      ctx.moveTo(px, area.bottom)
      ctx.lineTo(px, area.bottom + (t.major ? 6.5 : 3.8))
    }
    for (const t of scales.y.ticks) {
      const py = scales.y.getPixelForValue(t.value)
      ctx.moveTo(area.left, py)
      ctx.lineTo(area.left - (t.major ? 6.5 : 3.8), py)
    }
    ctx.stroke()

    // frame
    ctx.lineWidth = 1.5
    ctx.strokeRect(area.left, area.top, area.right - area.left, area.bottom - area.top)

    // tick labels
    ctx.fillStyle = "#000000"
    ctx.textAlign = "left"
    ctx.textBaseline = "alphabetic"
    xTickValues.forEach((v, i) => drawPower(ctx, xTickExponents[i], scales.x.getPixelForValue(v), 927, "center"))
    yTickValues.forEach((v, i) => drawPower(ctx, yTickExponents[i], 143, scales.y.getPixelForValue(v) + 10, "right"))

    // axis titles
    ctx.save()
    ctx.translate((area.left + area.right) / 2, 988)
    drawRich(ctx, xTitle, 30)
    ctx.restore()
    ctx.save()
    ctx.translate(53, (area.top + area.bottom) / 2)
    ctx.rotate(-Math.PI / 2)
    drawRich(ctx, yTitle, 30)
    ctx.restore()

    // legend
    const items = chart.data.datasets.filter(d => d.inLegend)
    ctx.beginPath()
    ctx.roundRect(1732, 15, 199, 79, 5)
    ctx.fillStyle = "rgba(255,255,255,0.8)"
    ctx.fill()
    ctx.strokeStyle = "#cccccc"
    ctx.lineWidth = 1.2
    ctx.stroke()
    ctx.font = `16px ${FONT}`
    ctx.textAlign = "left"
    ctx.textBaseline = "middle"
    items.forEach((d, i) => {
      const y = 29.5 + i * 25
      ctx.setLineDash(d.borderDash)
      ctx.strokeStyle = d.borderColor
      ctx.lineWidth = d.borderWidth
      ctx.beginPath()
      ctx.moveTo(1737, y)
      ctx.lineTo(1772, y)
      ctx.stroke()
      ctx.setLineDash([])
      ctx.fillStyle = "#000000"
      ctx.fillText(d.label, 1786, y + 1)
    })

    ctx.restore()
  }
}

const datasets = [
  bowman("Bowman high", bowmanHighFreq, bowmanHigh, [2.7, 4.5]),
  bowman("Bowman median", bowmanMedianFreq, bowmanMedian, [10, 4.3]),
  bowman("Bowman low", bowmanLowFreq, bowmanLow, [16, 4.3, 2.7, 4.3]),
  trace(blue1, BLUE, 1, freqHighA),
  trace(blue2, BLUE, 1, freqHighB),
  trace(blue3, BLUE, 1, freqHighA),
  trace(orange1, ORANGE, 2, freqHighA),
  trace(orange2, ORANGE, 2, freqHighB),
  trace(orange3, ORANGE, 2, freqHighA),
  trace(orange4, ORANGE, 2, freqHighB),
  trace(orange5, ORANGE, 2, freqHighA),
  trace(orange6, ORANGE, 2, freqHighB),
  trace(orange7, ORANGE, 2, freqHighA),
  trace(orange8, ORANGE, 2, freqHighB),
  trace(orange9, ORANGE, 2, freqHighA)
]

new Chart(document.getElementById("asd"), {
  type: "line",
  data: { datasets },
  options: {
    responsive: false,
    animation: false,
    devicePixelRatio: 1,
    layout: { padding: { top: 6, right: 16, left: 0, bottom: 0 } },
    plugins: { legend: { display: false }, tooltip: { enabled: false } },
    elements: {
      point: { radius: 0 },
      line: { tension: 0, borderCapStyle: "butt", borderJoinStyle: "round" }
    },
    scales: {
      x: {
        type: "logarithmic",
        min: xMin,
        max: xMax,
        afterBuildTicks: (scale) => { scale.ticks = logTicks(xMin, xMax) },
        afterFit: (scale) => { scale.height = 105 },
        border: { display: false },
        grid: { color: "#b0b0b0", lineWidth: 1.2, drawTicks: false },
        ticks: { display: false, autoSkip: false }
      },
      y: {
        type: "logarithmic",
        min: yMin,
        max: yMax,
        afterBuildTicks: (scale) => { scale.ticks = logTicks(yMin, yMax) },
        afterFit: (scale) => { scale.width = 155 },
        border: { display: false },
        grid: { color: "#b0b0b0", lineWidth: 1.2, drawTicks: false },
        ticks: { display: false, autoSkip: false }
      }
    }
  },
  plugins: [decor]
})
</script>
</body>
</html>
